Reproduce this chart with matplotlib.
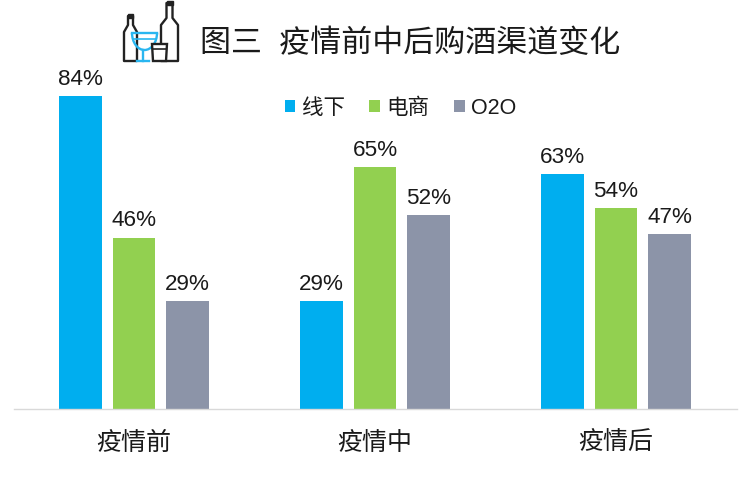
#!/usr/bin/env python3
"""Grouped bar chart: purchase channels before, during and after the epidemic."""

import numpy as np
import matplotlib
matplotlib.use('Agg')
import matplotlib.pyplot as plt
from matplotlib.patches import Polygon, Rectangle, Arc

plt.rcParams['font.family'] = ['Liberation Sans', 'Noto Sans CJK SC']

categories = ['疫情前', '疫情中', '疫情后']
series_names = ['线下', '电商', 'O2O']
offline = [84, 29, 63]
ecommerce = [46, 65, 54]
o2o = [29, 52, 47]
title = '图三  疫情前中后购酒渠道变化'

COLORS = ['#00AEEF', '#92D050', '#8C94A8']
W, H = 750, 504


def draw_bottle(ax, cx, top, bottom, half, neck, neck_end, shoulder_end):
    # bottle outline in pixel coordinates of the overlay axes
    pts = [(cx - neck, top), (cx + neck, top), (cx + neck, neck_end),
           (cx + half, shoulder_end), (cx + half, bottom),
           (cx - half, bottom), (cx - half, shoulder_end),
           (cx - neck, neck_end)]
    ax.add_patch(Polygon(pts, closed=True, fill=False, ec='#222222', lw=1.7,
                         joinstyle='round'))
    ax.add_patch(Rectangle((cx - neck, top - 2), neck * 2, 4, color='#222222'))


def draw_icon():
    # small bottles and glass next to the title
    icon = fig.add_axes([0, 0, 1, 1], facecolor='none')
    icon.set_xlim(0, W)
    icon.set_ylim(H, 0)
    icon.axis('off')
    draw_bottle(icon, 130.5, 16, 61, 6.5, 2.5, 25, 32)
    draw_bottle(icon, 169.5, 3, 61, 8.5, 3, 18, 25)

    blue = '#29B6F0'
    icon.add_patch(Arc((144.5, 33), 25, 34, theta1=0, theta2=180,
                       ec=blue, lw=1.7))
    icon.plot([132, 157], [33, 33], color=blue, lw=1.7)
    icon.plot([133, 156], [39, 39], color=blue, lw=1.2)
    icon.plot([143, 143], [50, 61], color=blue, lw=1.7)
    icon.plot([137, 149], [61, 61], color=blue, lw=1.7)

    icon.add_patch(Polygon([(152, 44), (167, 44), (166, 61), (153, 61)],
                           closed=True, fc='white', ec='#222222', lw=1.7))
    icon.plot([153, 166], [49, 49], color='#222222', lw=1.2)


fig = plt.figure(figsize=(W / 100, H / 100), dpi=100)
ax = fig.add_axes([13.5 / W, (H - 409) / H, 723 / W, 349 / H])

x = np.arange(len(categories))
width = 0.176
step = 0.222

for i, (name, values) in enumerate(zip(series_names, [offline, ecommerce, o2o])):
    bars = ax.bar(x + (i - 1) * step, values, width, color=COLORS[i], label=name)
    ax.bar_label(bars, labels=[f'{v}%' for v in values], padding=4.5,
                 fontsize=16.2, color='#1a1a1a')

ax.set_xlim(-0.5, 2.5)
ax.set_ylim(0, 349 / 3.726)
ax.set_xticks(x)
ax.set_xticklabels(categories, fontsize=18, color='#1a1a1a')
ax.tick_params(axis='x', length=0, pad=16)
ax.set_yticks([])
for side in ['top', 'left', 'right']:
    ax.spines[side].set_visible(False)
ax.spines['bottom'].set_color('#D9D9D9')
ax.spines['bottom'].set_linewidth(1)
ax.patch.set_alpha(0)

fig.legend(loc='center', bbox_to_anchor=(400.5 / W, 1 - 108 / H), ncol=3,
           frameon=False, fontsize=15.5, handlelength=0.5, handleheight=0.5,
           handletextpad=0.28, columnspacing=1.16, borderpad=0, labelcolor='#1a1a1a')

fig.text(200 / W, 1 - 44 / H, title, fontsize=22.3, va='center', ha='left',
         color='#1a1a1a')

draw_icon()

fig.savefig('out.png', dpi=100)
